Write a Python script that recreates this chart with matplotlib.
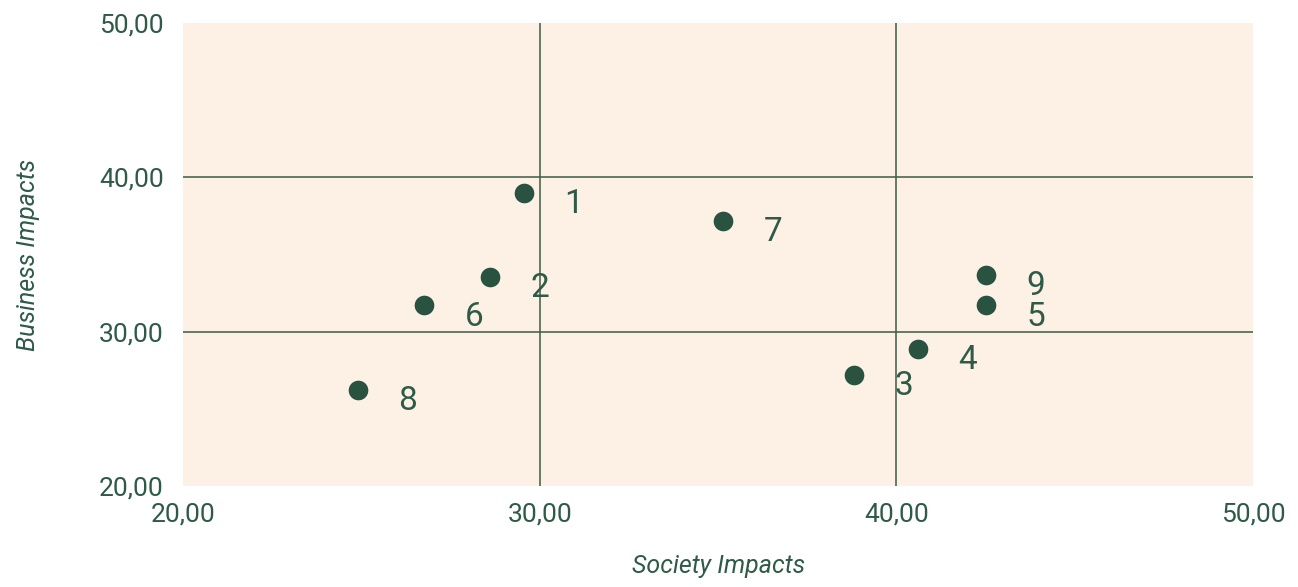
import matplotlib.pyplot as plt
from matplotlib.ticker import FuncFormatter

# Datos
labels = ['1', '2', '3', '4', '5', '6', '7', '8', '9']
society = [29.55, 28.6, 38.8, 40.6, 42.5, 26.75, 35.15, 24.9, 42.5]
business = [39.0, 33.55, 27.2, 28.9, 31.7, 31.7, 37.2, 26.2, 33.65]

ticks = [20, 30, 40, 50]

txt = '#2f5a48'
dot = '#2a5240'
bg = '#fdf0e4'

plt.rcParams['font.family'] = ['Roboto', 'DejaVu Sans']

fig = plt.figure(figsize=(12.98, 5.87), dpi=100)
ax = fig.add_axes([0.141, 0.172, 0.8245, 0.789])
ax.set_facecolor(bg)

ax.scatter(society, business, s=200, color=dot, zorder=3, linewidths=0)
for lab, x, y in zip(labels, society, business):
    ax.annotate(lab, (x, y), xytext=(36, -8), textcoords='offset points',
                ha='center', va='center', fontsize=24,
                color=txt, zorder=4)

ax.set_xlim(20, 50)
ax.set_ylim(20, 50)
ax.set_xticks(ticks)
ax.set_yticks(ticks)
fmt = FuncFormatter(lambda v, p: f'{v:.2f}'.replace('.', ','))
ax.xaxis.set_major_formatter(fmt)
ax.yaxis.set_major_formatter(fmt)

# Líneas de cuadrícula internas
for v in [30, 40]:
    ax.axvline(v, color='#3d5a47', lw=1.1, zorder=2)
    ax.axhline(v, color='#3d5a47', lw=1.1, zorder=2)

for s in ax.spines.values():
    s.set_visible(False)
ax.tick_params(length=0, labelsize=19, colors=txt)
ax.tick_params(axis='x', pad=12)
ax.tick_params(axis='y', pad=14)

ax.set_xlabel('Society Impacts', fontsize=18, style='italic', color=txt, labelpad=20)
ax.set_ylabel('Business Impacts', fontsize=18, style='italic', color=txt, labelpad=42)

fig.savefig('out.png', dpi=100)
